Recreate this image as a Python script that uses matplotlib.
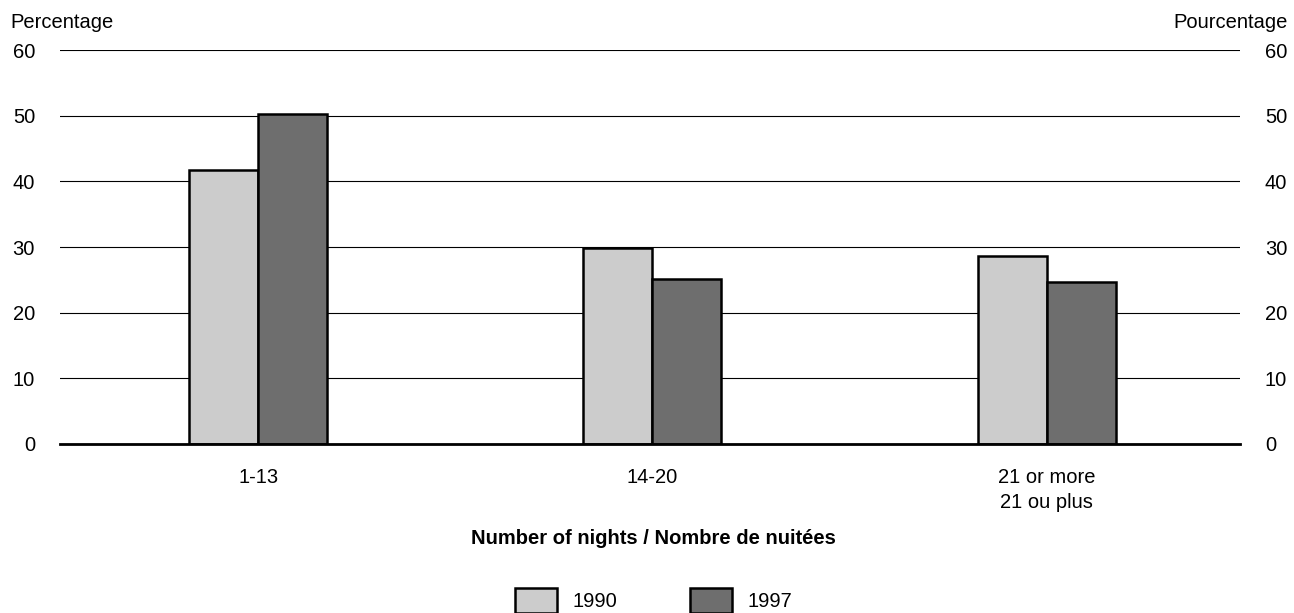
import numpy as np
import matplotlib.pyplot as plt
from matplotlib.patches import Patch

categories = ["1-13", "14-20", "21 or more\n21 ou plus"]
values_1990 = [41.7, 29.8, 28.6]
values_1997 = [50.3, 25.2, 24.6]

plt.rcParams['font.family'] = ['Liberation Sans', 'DejaVu Sans']
fs = 14.5

fig = plt.figure(figsize=(12.94, 6.13), dpi=100)
ax = fig.add_axes([0.0464, 0.2757, 0.9118, 0.6427])

x = np.arange(len(categories))
w = 0.175
ax.bar(x - w/2, values_1990, w, color="#cccccc", edgecolor="black", linewidth=1.8, zorder=3)
ax.bar(x + w/2, values_1997, w, color="#6e6e6e", edgecolor="black", linewidth=1.8, zorder=3)

ax.set_xlim(-0.5025, 2.49)
ax.set_ylim(0, 60)
ax.set_yticks(range(0, 61, 10))
ax.yaxis.grid(True, color="black", linewidth=0.8, zorder=0)
ax.set_xticks(x)
ax.set_xticklabels(categories, fontsize=fs, linespacing=1.45)
ax.tick_params(axis="both", length=0, labelsize=fs)
ax.tick_params(axis="x", pad=17)
ax.tick_params(axis="y", pad=18, labelright=True)
for s in ["top", "left", "right"]:
    ax.spines[s].set_visible(False)
ax.spines["bottom"].set_linewidth(2)
ax.spines["bottom"].set_zorder(4)

fig.text(0.008, 0.9625, "Percentage", fontsize=fs, ha="left", va="center")
fig.text(0.995, 0.9625, "Pourcentage", fontsize=fs, ha="right", va="center")
fig.text(0.505, 0.1223, "Number of nights / Nombre de nuitées", fontsize=fs,
         fontweight="bold", ha="center", va="center")

handles = [Patch(facecolor="#cccccc", edgecolor="black", linewidth=1.8, label="1990"),
           Patch(facecolor="#6e6e6e", edgecolor="black", linewidth=1.8, label="1997")]
fig.legend(handles=handles, loc="center", bbox_to_anchor=(0.505, 0.02), ncol=2, frameon=False,
           fontsize=fs, handlelength=2.1, handleheight=1.5, handletextpad=0.75, columnspacing=3.6)

fig.savefig("out.png")
